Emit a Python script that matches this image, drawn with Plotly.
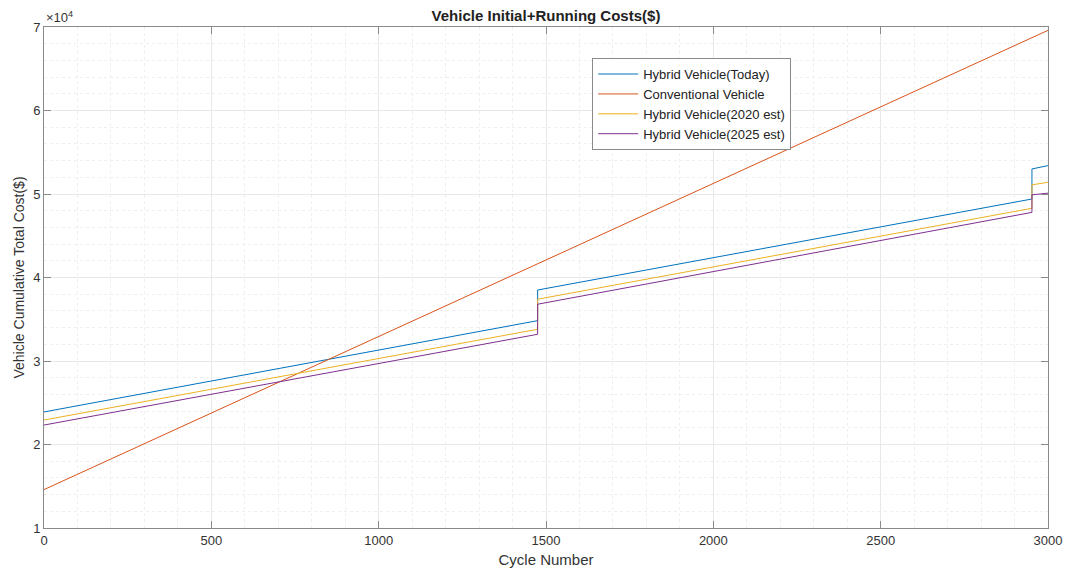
import plotly.graph_objects as go

# Cycle breakpoints (battery replacement steps at ~1475 and ~2952 cycles)
hybrid_cycles = [0, 1475, 1475, 2952, 2952, 3000]
conv_cycles = [0, 3000]

hybrid_today = [23900, 34830, 38500, 49400, 53000, 53400]
conventional = [14600, 69600]
hybrid_2020 = [22930, 33800, 37400, 48290, 51100, 51400]
hybrid_2025 = [22330, 33200, 36800, 47800, 49900, 50100]

y_tick_vals = [10000, 20000, 30000, 40000, 50000, 60000, 70000]
y_tick_text = ["1", "2", "3", "4", "5", "6", "7"]
x_tick_vals = [0, 500, 1000, 1500, 2000, 2500, 3000]

FONT = "Liberation Sans, Arial"

fig = go.Figure()
series = [
    ("Hybrid Vehicle(Today)", hybrid_cycles, hybrid_today, "#0072BD"),
    ("Conventional Vehicle", conv_cycles, conventional, "#D95319"),
    ("Hybrid Vehicle(2020 est)", hybrid_cycles, hybrid_2020, "#EDB120"),
    ("Hybrid Vehicle(2025 est)", hybrid_cycles, hybrid_2025, "#7E2F8E"),
]
for name, xs, ys, color in series:
    fig.add_trace(go.Scatter(x=xs, y=ys, mode="lines", name=name,
                             line=dict(color=color, width=1)))

axis_common = dict(
    showline=True, linecolor="#8a8a8a", linewidth=1, mirror="allticks",
    ticks="inside", ticklen=7, tickcolor="#8a8a8a", automargin=False,
    showgrid=True, gridcolor="#e8e8e8", gridwidth=1, zeroline=False,
    tickfont=dict(family=FONT, size=13, color="#333333"),
)

fig.update_xaxes(
    range=[0, 3000], tickvals=x_tick_vals,
    title=dict(text="Cycle Number", standoff=7,
               font=dict(family=FONT, size=15, color="#333333")),
    minor=dict(dtick=100, showgrid=True, gridcolor="#efefef", griddash="dot", ticks=""),
    **axis_common,
)
fig.update_yaxes(
    range=[10000, 70000], tickvals=y_tick_vals, ticktext=y_tick_text,
    title=dict(text="Vehicle Cumulative Total Cost($)", standoff=5,
               font=dict(family=FONT, size=14, color="#333333")),
    minor=dict(dtick=2000, showgrid=True, gridcolor="#efefef", griddash="dot", ticks=""),
    **axis_common,
)

fig.add_annotation(
    xref="paper", yref="paper", x=0, y=1, xanchor="left", yanchor="bottom",
    text="×10<sup>4</sup>", showarrow=False, yshift=0,
    font=dict(family=FONT, size=13, color="#333333"),
)

fig.update_layout(
    width=1065, height=574,
    margin=dict(l=44, r=17, t=27, b=46),
    paper_bgcolor="white", plot_bgcolor="white",
    title=dict(text="<b>Vehicle Initial+Running Costs($)</b>", x=0.5, xref="paper",
               y=0.972, yanchor="middle",
               font=dict(family=FONT, size=15, color="#222222")),
    showlegend=True,
    legend=dict(x=0.546, y=0.938, xanchor="left", yanchor="top",
                bgcolor="white", bordercolor="#8a8a8a", borderwidth=1,
                font=dict(family=FONT, size=13, color="#222222"),
                tracegroupgap=0, itemwidth=40),
)

fig.write_html("out.html")
